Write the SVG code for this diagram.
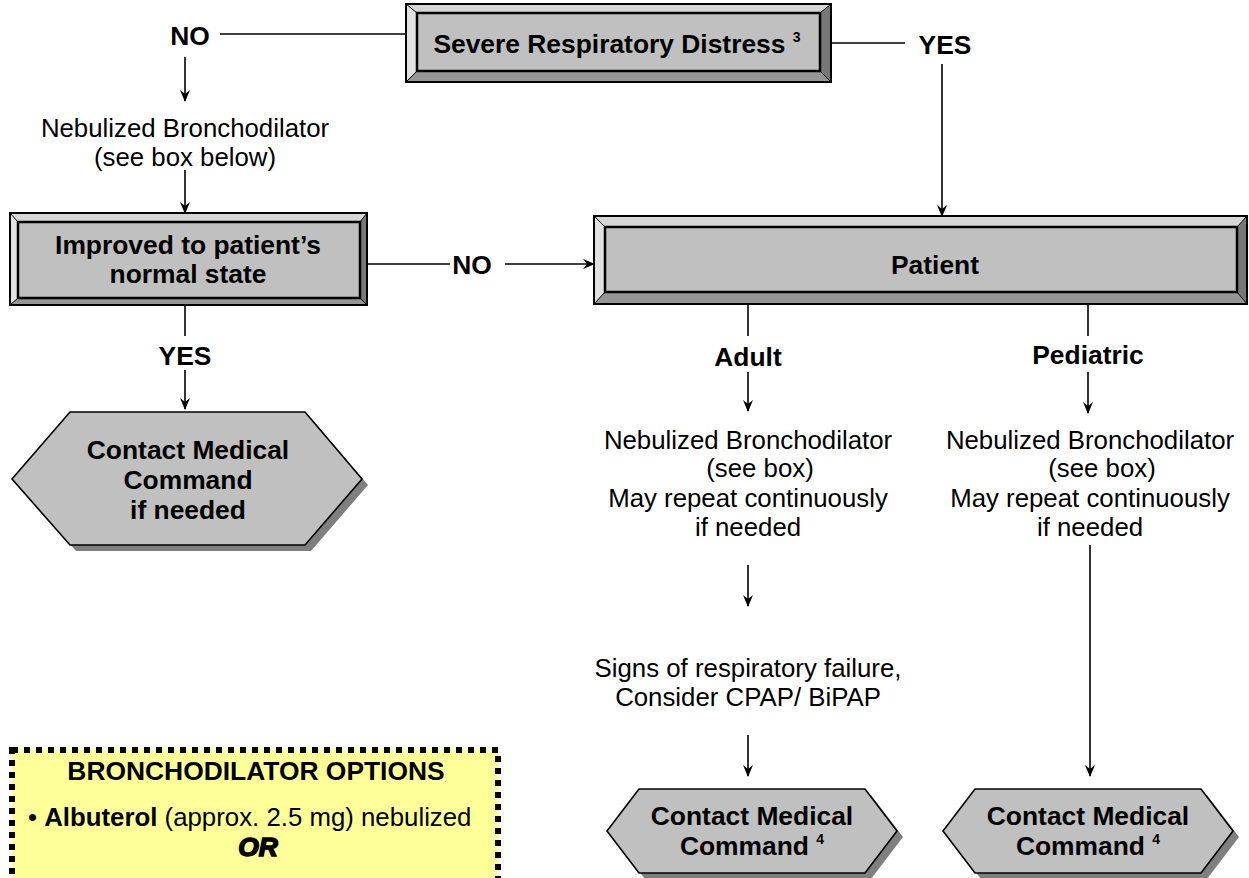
<svg xmlns="http://www.w3.org/2000/svg" width="1249" height="878" viewBox="0 0 1249 878">
<defs>
<marker id="arr" viewBox="0 0 12 12" refX="11" refY="6" markerWidth="12" markerHeight="12" markerUnits="userSpaceOnUse" orient="auto">
<path d="M0,1 L12,6 L0,11 L4,6 Z" fill="#000"/>
</marker>
<style>
.t{font-family:"Liberation Sans",Arial,sans-serif;font-size:25.8px;fill:#000;text-anchor:middle}
.b{font-weight:bold;font-size:26.4px}
.ln{stroke:#000;stroke-width:1.6;fill:none}
.ar{stroke:#000;stroke-width:1.6;fill:none;marker-end:url(#arr)}
.bt{fill:#d6d6d6}.bl{fill:#e2e2e2}.br{fill:#787878}.bb{fill:#969696}
.in{fill:#c0c0c0;stroke:#000;stroke-width:2.5}
.out{fill:none;stroke:#000;stroke-width:2}
.dg{stroke:#000;stroke-width:1}
.hex{fill:#c0c0c0;stroke:#000;stroke-width:1.6}
.sh{fill:#7f7f7f}
</style>
</defs>

<g id="connectors">
<line class="ln" x1="220" y1="34" x2="406" y2="34"/>
<line class="ln" x1="831" y1="43" x2="905" y2="43"/>
<line class="ar" x1="185" y1="57" x2="185" y2="101"/>
<line class="ar" x1="185" y1="170" x2="185" y2="213"/>
<line class="ar" x1="942" y1="64" x2="942" y2="216"/>
<line class="ln" x1="367" y1="264" x2="450" y2="264"/>
<line class="ar" x1="505" y1="264" x2="594" y2="264"/>
<line class="ln" x1="185" y1="305" x2="185" y2="336"/>
<line class="ar" x1="185" y1="370" x2="185" y2="409"/>
<line class="ln" x1="748" y1="304" x2="748" y2="336"/>
<line class="ar" x1="748" y1="372" x2="748" y2="411"/>
<line class="ln" x1="1088" y1="304" x2="1088" y2="336"/>
<line class="ar" x1="1088" y1="372" x2="1088" y2="413"/>
<line class="ar" x1="748" y1="565" x2="748" y2="606"/>
<line class="ar" x1="748" y1="735" x2="748" y2="776"/>
<line class="ar" x1="1090" y1="545" x2="1090" y2="776"/>
</g>

<g id="labels">
<text class="t b" x="190" y="45">NO</text>
<text class="t b" x="945" y="54">YES</text>
<text class="t b" x="472" y="274">NO</text>
<text class="t b" x="185" y="365">YES</text>
<text class="t b" x="748" y="366">Adult</text>
<text class="t b" x="1088" y="364">Pediatric</text>
</g>

<g id="severe">
<polygon class="bt" points="406,4 831,4 820,13 417,13"/>
<polygon class="bl" points="406,4 417,13 417,71 406,82"/>
<polygon class="br" points="831,4 831,82 820,71 820,13"/>
<polygon class="bb" points="406,82 831,82 820,71 417,71"/>
<line class="dg" x1="406" y1="4" x2="417" y2="13"/><line class="dg" x1="831" y1="4" x2="820" y2="13"/>
<line class="dg" x1="406" y1="82" x2="417" y2="71"/><line class="dg" x1="831" y1="82" x2="820" y2="71"/>
<rect class="in" x="417" y="13" width="403" height="58"/>
<rect class="out" x="406" y="4" width="425" height="78"/>
<text class="t b" x="617" y="53">Severe Respiratory Distress <tspan font-size="14" dy="-11">3</tspan></text>
</g>

<g id="neb-left">
<text class="t" x="185" y="137">Nebulized Bronchodilator</text>
<text class="t" x="185" y="166">(see box below)</text>
</g>

<g id="improved">
<polygon class="bt" points="10,213 367,213 360,222 18,222"/>
<polygon class="bl" points="10,213 18,222 18,298 10,305"/>
<polygon class="br" points="367,213 367,305 360,298 360,222"/>
<polygon class="bb" points="10,305 367,305 360,298 18,298"/>
<line class="dg" x1="10" y1="213" x2="18" y2="222"/><line class="dg" x1="367" y1="213" x2="360" y2="222"/>
<line class="dg" x1="10" y1="305" x2="18" y2="298"/><line class="dg" x1="367" y1="305" x2="360" y2="298"/>
<rect class="in" x="18" y="222" width="342" height="76"/>
<rect class="out" x="10" y="213" width="357" height="92"/>
<text class="t b" x="188" y="254">Improved to patient’s</text>
<text class="t b" x="188" y="283">normal state</text>
</g>

<g id="patient">
<polygon class="bt" points="594,216 1247,216 1237,227 605,227"/>
<polygon class="bl" points="594,216 605,227 605,292 594,304"/>
<polygon class="br" points="1247,216 1247,304 1237,292 1237,227"/>
<polygon class="bb" points="594,304 1247,304 1237,292 605,292"/>
<line class="dg" x1="594" y1="216" x2="605" y2="227"/><line class="dg" x1="1247" y1="216" x2="1237" y2="227"/>
<line class="dg" x1="594" y1="304" x2="605" y2="292"/><line class="dg" x1="1247" y1="304" x2="1237" y2="292"/>
<rect class="in" x="605" y="227" width="632" height="65"/>
<rect class="out" x="594" y="216" width="653" height="88"/>
<text class="t b" x="935" y="274">Patient</text>
</g>

<g id="contact-left">
<polygon class="sh" points="76,418 311,418 368,485 311,551 76,551 18,485"/>
<polygon class="hex" points="70,412 305,412 362,479 305,545 70,545 12,479"/>
<text class="t b" x="188" y="459">Contact Medical</text>
<text class="t b" x="188" y="489">Command</text>
<text class="t b" x="188" y="519">if needed</text>
</g>

<g id="adult-text">
<text class="t" x="748" y="449">Nebulized Bronchodilator</text>
<text class="t" x="760" y="477">(see box)</text>
<text class="t" x="748" y="507">May repeat continuously</text>
<text class="t" x="748" y="536">if needed</text>
<text class="t" x="748" y="677">Signs of respiratory failure,</text>
<text class="t" x="748" y="706">Consider CPAP/ BiPAP</text>
</g>

<g id="pediatric-text">
<text class="t" x="1090" y="449">Nebulized Bronchodilator</text>
<text class="t" x="1102" y="477">(see box)</text>
<text class="t" x="1090" y="507">May repeat continuously</text>
<text class="t" x="1090" y="536">if needed</text>
</g>

<g id="contact-adult">
<polygon class="sh" points="645,795 871,795 903,837 871,879 645,879 613,837"/>
<polygon class="hex" points="639,789 865,789 897,831 865,873 639,873 607,831"/>
<text class="t b" x="752" y="825">Contact Medical</text>
<text class="t b" x="752" y="855">Command <tspan font-size="14" dy="-11">4</tspan></text>
</g>

<g id="contact-ped">
<polygon class="sh" points="981,795 1207,795 1239,837 1207,879 981,879 949,837"/>
<polygon class="hex" points="975,789 1201,789 1233,831 1201,873 975,873 943,831"/>
<text class="t b" x="1088" y="825">Contact Medical</text>
<text class="t b" x="1088" y="855">Command <tspan font-size="14" dy="-11">4</tspan></text>
</g>

<g id="bronchodilator-options">
<rect x="12" y="750" width="486" height="140" fill="#ffff99"/>
<rect x="12" y="750" width="486" height="140" fill="none" stroke="#000" stroke-width="6" stroke-dasharray="6 6"/>
<text class="t b" x="256" y="780">BRONCHODILATOR OPTIONS</text>
<text class="t" x="28" y="826" style="text-anchor:start">• <tspan font-weight="bold">Albuterol</tspan> (approx. 2.5 mg) nebulized</text>
<text class="t b" x="258" y="856" font-style="italic" stroke="#000" stroke-width="1.5">OR</text>
</g>
</svg>
